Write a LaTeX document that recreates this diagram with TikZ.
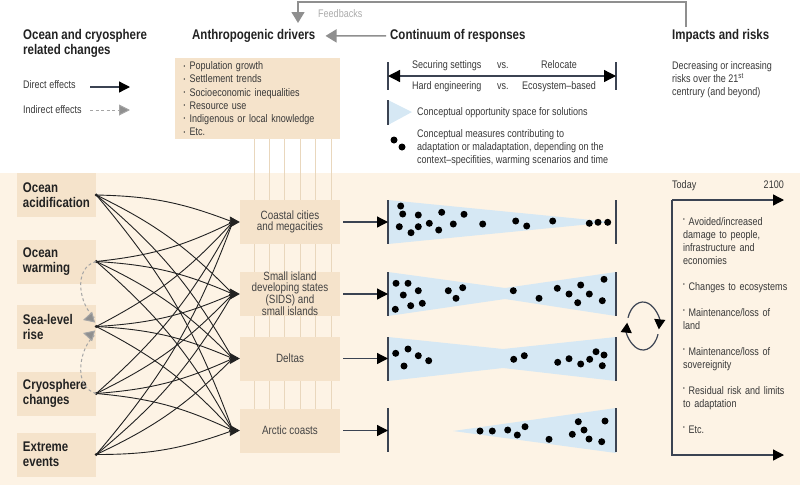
\documentclass[tikz,border=0pt]{standalone}
\usepackage{fontspec}
\setmainfont{Liberation Sans}[FakeStretch=0.82]
\usetikzlibrary{arrows.meta,positioning,calc}
\definecolor{band}{HTML}{FDF3E5}
\definecolor{tan}{HTML}{F5E3CB}
\definecolor{tanline}{HTML}{E9D7BD}
\definecolor{sky}{HTML}{D6E8F4}
\definecolor{slate}{HTML}{3B4352}
\definecolor{fbgrey}{HTML}{8F8F8F}
\definecolor{ink}{HTML}{222222}
\newcommand{\bul}{\makebox[6pt][l]{\raisebox{1.5pt}{\fontsize{6}{6}\selectfont•}}}
\newcommand{\riskitem}[1]{\hangindent=5.5pt\hangafter=1\noindent\makebox[5.5pt][l]{\raisebox{3.5pt}{\fontsize{6}{6}\selectfont•}}#1\par}
\tikzset{
	heading/.style={font=\fontsize{14}{14.5}\selectfont\bfseries, text=ink, inner sep=0pt, align=left},
	small/.style={font=\fontsize{11}{13}\selectfont, text=ink!90, inner sep=0pt, align=left},
	change/.style={fill=tan, minimum width=79pt, minimum height=44pt, text width=67pt,
		inner xsep=6pt, inner ysep=0pt, font=\fontsize{14}{15}\selectfont\bfseries, text=ink, align=left},
	region/.style={fill=tan, minimum width=100pt, minimum height=44pt, inner sep=0pt,
		font=\fontsize{12}{11}\selectfont, text=ink!85, align=center},
	link/.style={ink, line width=0.9pt},
	tip/.style={-{Triangle[length=10pt,width=11pt]}},
	indirect/.style={fbgrey!80, line width=1pt, dash pattern=on 3pt off 2.5pt,
		-{Triangle[length=11pt,width=11pt,fill=fbgrey]}},
	bar/.style={slate, line width=1.4pt},
	fwd/.style={slate, line width=1.3pt, -{Triangle[length=11pt,width=11pt,color=black]}},
	feedback/.style={fbgrey, line width=1.5pt, -{Triangle[length=11pt,width=13pt]}}
}

\begin{document}
\begin{tikzpicture}[x=1pt,y=-1pt]
	\useasboundingbox (0,0) rectangle (800,485);
	\fill[band] (0,173) rectangle (800,485);

	% headings
	\node[heading, anchor=north west] (hocean) at (23,29.5) {Ocean and cryosphere\\related changes};
	\node[heading, anchor=base west] (hdrivers) at (192,39.5) {Anthropogenic drivers};
	\node[heading, anchor=base west] (hcont) at (390,39.5) {Continuum of responses};
	\node[heading, anchor=base west] (himpact) at (672,39.5) {Impacts and risks};
	\node[small, anchor=base west, text=fbgrey!75] (fb) at (318,17) {Feedbacks};
	\coordinate (fb_from) at (686,27);
	\coordinate (fb_to) at (298,23);
	\draw[feedback] (fb_from) -- (686,2) -| (fb_to);
	\draw[feedback] ([xshift=-4pt]hcont.west) -- ([xshift=10pt]hdrivers.east);

	% legend
	\node[small, anchor=base west] (ldirect) at (23,88) {Direct effects};
	\node[small, anchor=base west] (lindirect) at (23,113) {Indirect effects};
	\coordinate (da) at (90,87); \coordinate (db) at (130,87);
	\coordinate (ia) at (90,110); \coordinate (ib) at (130,110);
	\draw[fwd] (da) -- (db);
	\draw[indirect] (ia) -- (ib);

	% drivers
	\node[fill=tan, anchor=north west, minimum width=165pt, minimum height=81pt, text width=148pt,
		inner xsep=8.5pt, inner ysep=0pt, font=\fontsize{11}{13.2}\selectfont, text=ink!90, align=left]
		(drivers) at (175,58) {\bul Population growth\\\bul Settlement trends\\\bul Socioeconomic inequalities\\
		\bul Resource use\\\bul Indigenous or local knowledge\\\bul Etc.};
	\foreach \x in {254,269,284,300,315,331}
		\draw[tanline, line width=0.8pt] (\x,139) -- (\x,420);

	% continuum legend
	\draw[bar] (388,62) -- (388,90);
	\draw[bar] (616,62) -- (616,90);
	\draw[slate, line width=1.3pt, {Triangle[length=12pt,width=12pt,color=black]}-{Triangle[length=12pt,width=12pt,color=black]}]
		(388,76) -- (616,76);
	\node[small, anchor=base west] (secure) at (412,68) {Securing settings};
	\node[small, anchor=base west] (vs1) at (497,68) {vs.};
	\node[small, anchor=base west] (reloc) at (541,68) {Relocate};
	\node[small, anchor=base west] (hard) at (412,89) {Hard engineering};
	\node[small, anchor=base west] (vs2) at (497,89) {vs.};
	\node[small, anchor=base west] (eco) at (522,89) {Ecosystem–based};
	\fill[sky] (388,100) -- (412,112) -- (388,125) -- cycle;
	\draw[bar] (388,100) -- (388,125);
	\node[small, anchor=base west] (space) at (417,115) {Conceptual opportunity space for solutions};
	\fill (394,140) circle (3.5);
	\fill (402,147) circle (3.5);
	\node[small, anchor=north west] (measures) at (417,129) {Conceptual measures contributing to\\
		adaptation or maladaptation, depending on the\\context–specifities, warming scenarios and time};
	\node[small, anchor=north west] (risks) at (672,61) {Decreasing or increasing\\risks over the 21\textsuperscript{st}\\centrury (and beyond)};

	% changes and regions
	\node[change] (acid) at (56.5,195) {Ocean\\acidification};
	\node[change] (warm) at (56.5,261.5) {Ocean\\warming};
	\node[change] (slr) at (56.5,326.5) {Sea-level\\rise};
	\node[change] (cryo) at (56.5,393.5) {Cryosphere\\changes};
	\node[change] (extreme) at (56.5,454.5) {Extreme\\events};
	\node[region] (coastal) at (290,222) {Coastal cities\\and megacities};
	\node[region] (sids) at (290,294) {Small island\\developing states\\(SIDS) and\\small islands};
	\node[region] (deltas) at (290,358.5) {Deltas};
	\node[region] (arctic) at (290,430.5) {Arctic coasts};

	\foreach \s/\t in {acid/coastal,acid/sids,acid/deltas,acid/arctic,warm/sids,warm/deltas,warm/arctic,
		slr/deltas,slr/arctic,cryo/arctic}
		\draw[link] (\s.east) to[bend left=10] ([xshift=-7pt]\t.west);
	\foreach \s/\t in {warm/coastal,slr/coastal,slr/sids,cryo/coastal,cryo/sids,cryo/deltas,
		extreme/coastal,extreme/sids,extreme/deltas,extreme/arctic}
		\draw[link] (\s.east) to[bend right=10] ([xshift=-7pt]\t.west);
	\foreach \t in {coastal,sids,deltas,arctic}
		\draw[link, tip] ([xshift=-11pt]\t.west) -- (\t.west);
	\foreach \s in {acid,warm,slr,cryo,extreme}
		\fill[ink] (\s.east) circle (1.6);
	\coordinate (slr_a) at (83,320);
	\coordinate (slr_b) at (83,333);
	\draw[indirect] (warm.east) .. controls (72,268) and (80,306) .. (94,317) -- (slr_a);
	\draw[indirect] (cryo.east) .. controls (72,387) and (80,347) .. (94,336) -- (slr_b);

	% responses
	\fill[sky] (388,200) -- (612,222) -- (388,244) -- cycle;
	\fill[sky] (388,272) -- (505,288) -- (616,272) -- (616,316) -- (505,299) -- (388,316) -- cycle;
	\fill[sky] (388,337) -- (503,349) -- (616,337) -- (616,381) -- (503,368) -- (388,381) -- cycle;
	\fill[sky] (453,431) -- (616,408) -- (616,453) -- cycle;
	\foreach \y in {200,272,337,408} {
		\draw[bar] (388,\y) -- (388,\y+44);
		\draw[bar] (616,\y) -- (616,\y+44);
	}
	\coordinate (w1) at (388,222);
	\coordinate (w2) at (388,294);
	\coordinate (w3) at (388,358.5);
	\coordinate (w4) at (388,430.5);
	\draw[fwd] ([xshift=3pt]coastal.east) -- (w1);
	\draw[fwd] ([xshift=3pt]sids.east) -- (w2);
	\draw[fwd] ([xshift=3pt]deltas.east) -- (w3);
	\draw[fwd] ([xshift=3pt]arctic.east) -- (w4);
	\foreach \x/\y in {400.7/206,402.7/214,418.3/215,441.7/212.3,464/214.3,399.3/226.7,411/232.7,
		418.3/226.7,429.3/223.3,438.7/230,453.3/224,482.7/224,515.7/221,526.7/226,552.7/221,
		589.3/223.3,598/222.3,607.7/222.3,
		396/283.3,408/283.3,418.3/290.7,403.3/295,395.3/309.3,410.7/305.7,422.3/303.3,448.3/290.7,
		462.7/287.7,456/298.3,513.3/290.7,539/298.3,557.3/288.3,569/294,580.7/285,589.3/294,
		577.7/302.7,604/279.3,602.3/300.7,
		395.7/353.3,408/349,418.3/355.7,428.7/360.7,404/366,513.7/359.3,524.3/355.7,557.7/362.3,
		569/358.7,580.7/364,589.7/359.3,596/351.7,604/355,602.3/365.7,
		480/431,492.3/431,507.7/430,517.3/435,525/426.7,549/439.3,572.3/434.3,578.3/421.7,
		584/430,589/439,605/421,601.7/441.7}
		\fill (\x,\y) circle (3.5);

	% cycle
	\draw[slate, line width=1.2pt, -{Triangle[length=10pt,width=11pt,color=black]}]
		(643,326) ++(200:16 and 24) arc[start angle=200, end angle=368, x radius=16, y radius=24];
	\draw[slate, line width=1.2pt, -{Triangle[length=10pt,width=11pt,color=black]}]
		(643,326) ++(20:16 and 24) arc[start angle=20, end angle=188, x radius=16, y radius=24];

	% impacts
	\node[small, anchor=base west] (today) at (672,188) {Today};
	\node[small, anchor=base east] (y2100) at (784,188) {2100};
	\coordinate (t0) at (672,200); \coordinate (t1) at (784,200);
	\coordinate (b0) at (672,455); \coordinate (b1) at (784,455);
	\draw[fwd] (t0) -- (t1);
	\draw[fwd] (t0) -- (b0) -- (b1);
	\node[small, anchor=north west, text width=105pt, align=left] (impacts) at (683,217) {%
		\riskitem{Avoided/increased\\damage to people,\\infrastructure and\\economies}\vspace{13pt}
		\riskitem{Changes to ecosystems}\vspace{13pt}
		\riskitem{Maintenance/loss of\\land}\vspace{13pt}
		\riskitem{Maintenance/loss of\\sovereignity}\vspace{13pt}
		\riskitem{Residual risk and limits\\to adaptation}\vspace{13pt}
		\riskitem{Etc.}};
\end{tikzpicture}
\end{document}
